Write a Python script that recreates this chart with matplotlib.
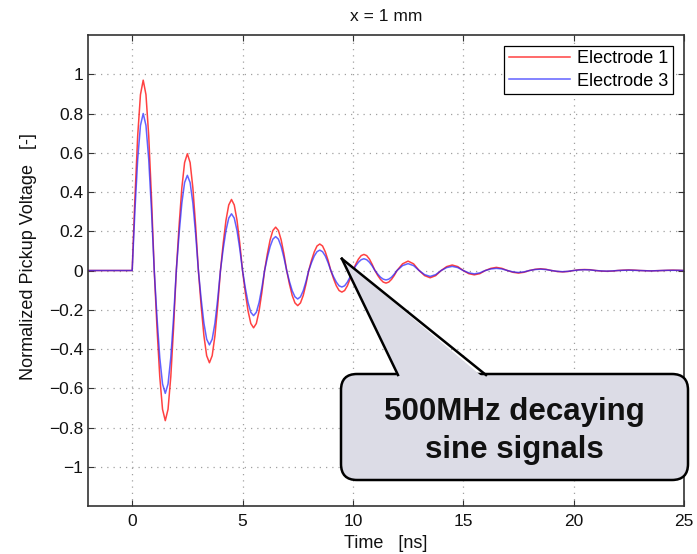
# Pickup voltage of two electrodes, x = 1 mm, with callout box.

import matplotlib
matplotlib.use('Agg')
import matplotlib.pyplot as plt
import numpy as np
from matplotlib.patches import FancyBboxPatch, Polygon
from matplotlib.lines import Line2D

plt.rcParams['font.family'] = ['Liberation Sans', 'DejaVu Sans']

# sample times [ns]: flat part, then 0..12 ns every 0.125 ns, then 12..25 ns every 0.25 ns
t_pre = [-2.0]
t_fine = np.arange(0.0, 12.0, 0.125)
t_coarse = np.arange(12.0, 25.001, 0.25)
time_ns = np.concatenate([t_pre, t_fine, t_coarse])

# Electrode 1 (one row per half period)
electrode1 = [0.0,
    0.000, 0.371, 0.686, 0.896, 0.970, 0.896, 0.686, 0.371,
    0.000, -0.293, -0.541, -0.707, -0.765, -0.707, -0.541, -0.293,
    0.000, 0.228, 0.421, 0.550, 0.595, 0.550, 0.421, 0.228,
    0.000, -0.180, -0.332, -0.434, -0.470, -0.434, -0.332, -0.180,
    0.000, 0.139, 0.256, 0.334, 0.362, 0.334, 0.256, 0.139,
    0.000, -0.112, -0.206, -0.270, -0.292, -0.270, -0.206, -0.112,
    0.000, 0.085, 0.156, 0.204, 0.221, 0.204, 0.156, 0.085,
    0.000, -0.069, -0.127, -0.165, -0.179, -0.165, -0.127, -0.069,
    0.000, 0.052, 0.095, 0.125, 0.135, 0.125, 0.095, 0.052,
    0.000, -0.042, -0.078, -0.102, -0.110, -0.102, -0.078, -0.042,
    0.000, 0.031, 0.058, 0.076, 0.082, 0.076, 0.058, 0.031,
    0.000, -0.025, -0.045, -0.059, -0.064, -0.059, -0.045, -0.025,
    0.000, 0.034, 0.048, 0.034, 0.000, -0.026, -0.037, -0.026,
    0.000, 0.020, 0.028, 0.020, 0.000, -0.016, -0.022, -0.016,
    0.000, 0.011, 0.016, 0.011, 0.000, -0.009, -0.013, -0.009,
    0.000, 0.006, 0.009, 0.006, 0.000, -0.005, -0.007, -0.005,
    0.000, 0.004, 0.005, 0.004, 0.000, -0.003, -0.004, -0.003,
    0.000, 0.002, 0.003, 0.002, 0.000, -0.001, -0.002, -0.001,
    0.000, 0.001, 0.002, 0.001, 0.000]

# Electrode 3
electrode3 = [0.0,
    0.000, 0.306, 0.566, 0.739, 0.800, 0.739, 0.566, 0.306,
    0.000, -0.240, -0.443, -0.578, -0.626, -0.578, -0.443, -0.240,
    0.000, 0.186, 0.343, 0.448, 0.485, 0.448, 0.343, 0.186,
    0.000, -0.145, -0.268, -0.350, -0.379, -0.350, -0.268, -0.145,
    0.000, 0.111, 0.204, 0.267, 0.289, 0.267, 0.204, 0.111,
    0.000, -0.088, -0.163, -0.213, -0.230, -0.213, -0.163, -0.088,
    0.000, 0.066, 0.122, 0.160, 0.173, 0.160, 0.122, 0.066,
    0.000, -0.056, -0.103, -0.134, -0.145, -0.134, -0.103, -0.056,
    0.000, 0.040, 0.074, 0.096, 0.104, 0.096, 0.074, 0.040,
    0.000, -0.032, -0.059, -0.078, -0.084, -0.078, -0.059, -0.032,
    0.000, 0.023, 0.042, 0.055, 0.060, 0.055, 0.042, 0.023,
    0.000, -0.018, -0.034, -0.044, -0.048, -0.044, -0.034, -0.018,
    0.000, 0.025, 0.035, 0.025, 0.000, -0.021, -0.030, -0.021,
    0.000, 0.015, 0.021, 0.015, 0.000, -0.012, -0.017, -0.012,
    0.000, 0.008, 0.011, 0.008, 0.000, -0.007, -0.010, -0.007,
    0.000, 0.005, 0.007, 0.005, 0.000, -0.004, -0.006, -0.004,
    0.000, 0.003, 0.004, 0.003, 0.000, -0.002, -0.003, -0.002,
    0.000, 0.001, 0.002, 0.001, 0.000, -0.001, -0.002, -0.001,
    0.000, 0.001, 0.001, 0.001, 0.000]

x_ticks = [0, 5, 10, 15, 20, 25]
y_ticks = [-1, -0.8, -0.6, -0.4, -0.2, 0, 0.2, 0.4, 0.6, 0.8, 1]
callout_text = '500MHz decaying\nsine signals'

fig = plt.figure(figsize=(6.97, 5.54), dpi=100)
ax = fig.add_axes([0.1263, 0.0866, 0.855, 0.8502])

ax.plot(time_ns, electrode1, color='#ff2020', lw=1.1, alpha=0.85,
        solid_joinstyle='round', label='Electrode 1')
ax.plot(time_ns, electrode3, color='#2020ff', lw=1.1, alpha=0.7,
        solid_joinstyle='round', label='Electrode 3')

ax.set_xlim(-2, 25)
ax.set_ylim(-1.2, 1.2)
ax.set_xticks(x_ticks)
ax.set_yticks(y_ticks)
ax.set_yticklabels(['\u22121', '\u22120.8', '\u22120.6', '\u22120.4', '\u22120.2', '0',
                    '0.2', '0.4', '0.6', '0.8', '1'])
ax.tick_params(direction='in', length=4, width=0.8, labelsize=12.5, top=True, right=True,
               color='#333333', labelcolor='#111111')
ax.tick_params(axis='x', pad=6)
for s in ax.spines.values():
    s.set_linewidth(1.2)
    s.set_color('#333333')
ax.grid(True, linestyle=(0, (1, 4)), color='#a0a0a0', lw=0.9)
ax.set_axisbelow(True)

ax.set_xlabel('Time   [ns]', fontsize=13, color='#111111', labelpad=4)
ax.set_ylabel('Normalized Pickup Voltage   [-]', fontsize=13, color='#111111')
ax.yaxis.set_label_coords(-0.086, 0.53)
ax.set_title('x = 1 mm', fontsize=12.5, color='#111111', pad=10)

leg = ax.legend(loc='upper right', fontsize=13, fancybox=False, edgecolor='black',
                framealpha=1, handlelength=3.4, borderaxespad=0.6, borderpad=0.25,
                labelspacing=0.3, handletextpad=0.4)
leg.get_frame().set_linewidth(0.9)

# callout: rounded box in pixels plus a wedge pointing at the ringing
fig.canvas.draw()
tip = ax.transData.transform((9.5, 0.06))
H = 554
box = FancyBboxPatch((341, H - 480), 347, 106, boxstyle='round,pad=0,rounding_size=16',
                     transform=None, facecolor='#dcdce6', edgecolor='black', lw=1.8,
                     clip_on=False, zorder=5)
fig.patches.append(box)
base_l = (398, H - 375)
base_r = (486, H - 375)
wedge = Polygon([tip, (base_l[0] + 1, base_l[1] - 4), (base_r[0] - 1, base_r[1] - 4)],
                closed=True, transform=None, facecolor='#dcdce6', edgecolor='none',
                clip_on=False, zorder=6)
fig.patches.append(wedge)
for b in (base_l, base_r):
    fig.lines.append(Line2D([tip[0], b[0]], [tip[1], b[1]], transform=None,
                            color='black', lw=1.8, zorder=7))
fig.text(514 / 697, 1 - 431 / H, callout_text, ha='center', va='center',
         fontsize=22.5, fontweight='bold', color='#111111', linespacing=1.32, zorder=8)

fig.savefig('out.png', dpi=100)
